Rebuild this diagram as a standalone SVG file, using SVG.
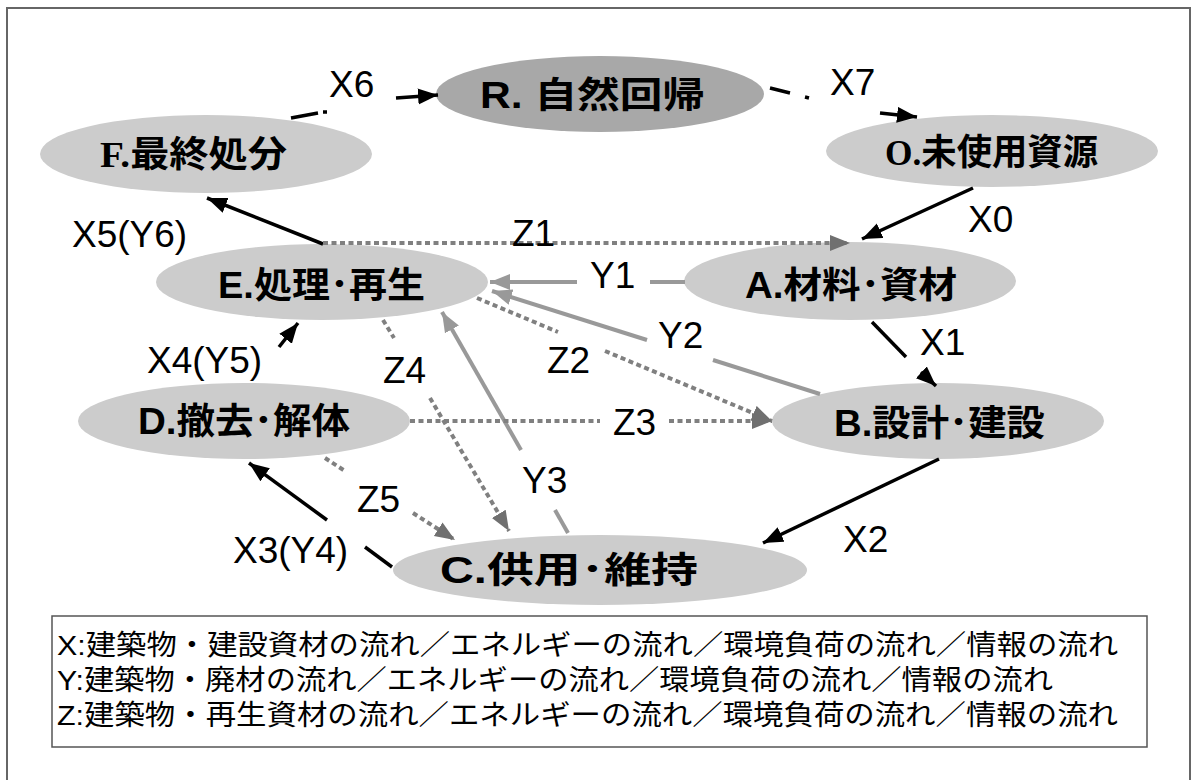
<svg xmlns="http://www.w3.org/2000/svg" width="1192" height="780" viewBox="0 0 1192 780">
<style>
.node{fill:#cccccc}
.nodeR{fill:#a8a8a8}
.nt{font-family:"Liberation Sans","Noto Sans CJK JP",sans-serif;font-weight:bold;font-size:36px;fill:#000}
.serif{font-family:"Liberation Serif","Noto Sans CJK JP",serif}
.lbl{font-family:"Liberation Sans",Arial,sans-serif;font-size:37px;fill:#000}
.blk{stroke:#000;stroke-width:3.5;fill:none}
.gry{stroke:#999;stroke-width:4;fill:none}
.dot{stroke:#808080;stroke-width:4;fill:none;stroke-dasharray:5 3.5}
.leg{font-family:"Liberation Sans","Noto Sans CJK JP",sans-serif;font-size:28px;fill:#000}
</style>
<defs>
<marker id="ab" markerUnits="userSpaceOnUse" markerWidth="22" markerHeight="18" refX="20" refY="8" orient="auto"><path d="M0,0 L20,8 L0,16 z" fill="#000"/></marker>
<marker id="ag" markerUnits="userSpaceOnUse" markerWidth="22" markerHeight="18" refX="20" refY="8" orient="auto"><path d="M0,0 L20,8 L0,16 z" fill="#999"/></marker>
<marker id="az" markerUnits="userSpaceOnUse" markerWidth="22" markerHeight="18" refX="20" refY="8" orient="auto"><path d="M0,0 L20,8 L0,16 z" fill="#707070"/></marker>
</defs>
<rect x="0" y="0" width="1192" height="780" fill="#fff"/>
<rect x="7" y="8" width="1183" height="800" fill="none" stroke="#666" stroke-width="2"/>

<g id="node-R"><ellipse class="nodeR" cx="600" cy="94" rx="164" ry="38"/><text class="nt" x="480" y="108" font-size="40" textLength="225" lengthAdjust="spacingAndGlyphs">R. 自然回帰</text></g>
<g id="node-F"><ellipse class="node" cx="206" cy="154" rx="166" ry="39"/><text class="nt" x="100" y="167" font-size="38" textLength="187" lengthAdjust="spacingAndGlyphs"><tspan class="serif">F.</tspan>最終処分</text></g>
<g id="node-O"><ellipse class="node" cx="992" cy="151" rx="166" ry="36"/><text class="nt" x="885" y="165" font-size="35" textLength="213" lengthAdjust="spacingAndGlyphs"><tspan class="serif">O.</tspan>未使用資源</text></g>
<g id="node-E"><ellipse class="node" cx="322" cy="282" rx="166" ry="38"/><text class="nt" x="218" y="298" textLength="207" lengthAdjust="spacingAndGlyphs">E.処理･再生</text></g>
<g id="node-A"><ellipse class="node" cx="850" cy="281" rx="166" ry="39"/><text class="nt" x="745" y="298" textLength="212" lengthAdjust="spacingAndGlyphs">A.材料･資材</text></g>
<g id="node-D"><ellipse class="node" cx="244" cy="421" rx="166" ry="38"/><text class="nt" x="138" y="434" textLength="212" lengthAdjust="spacingAndGlyphs">D.撤去･解体</text></g>
<g id="node-B"><ellipse class="node" cx="938" cy="421" rx="166" ry="38"/><text class="nt" x="834" y="436" textLength="211" lengthAdjust="spacingAndGlyphs">B.設計･建設</text></g>
<g id="node-C"><ellipse class="node" cx="600" cy="570" rx="207" ry="35"/><text class="nt" x="440" y="583" font-size="40" textLength="258" lengthAdjust="spacingAndGlyphs">C.供用･維持</text></g>

<g id="connectors">
<path class="blk" d="M291,118 L318,113 M323,112 L327,112"/>
<path class="blk" d="M396,98 L438,95" marker-end="url(#ab)"/>
<path class="blk" d="M770,88 L790,93 M805,97 L809,98"/>
<path class="blk" d="M880,113 L917,117" marker-end="url(#ab)"/>
<path class="blk" d="M973,188 L862,239" marker-end="url(#ab)"/>
<path class="blk" d="M323,244 L207,198" marker-end="url(#ab)"/>
<path class="blk" d="M872,322 L906,357"/>
<path class="blk" d="M921,372 L936,386" marker-end="url(#ab)"/>
<path class="blk" d="M939,459 L763,543" marker-end="url(#ab)"/>
<path class="blk" d="M392,567 L365,547"/>
<path class="blk" d="M327,520 L249,463" marker-end="url(#ab)"/>
<path class="blk" d="M279,347 L298,323" marker-end="url(#ab)"/>
<path class="gry" d="M685,282 L650,282"/>
<path class="gry" d="M577,282 L490,282" marker-end="url(#ag)"/>
<path class="gry" d="M820,394 L713,360"/>
<path class="gry" d="M647,340 L492,291" marker-end="url(#ag)"/>
<path class="gry" d="M568,533 L555,510"/>
<path class="gry" d="M521,450 L442,312" marker-end="url(#ag)"/>
<path class="dot" d="M323,243 L850,243" marker-end="url(#az)"/>
<path class="dot" d="M477,298 L558,332"/>
<path class="dot" d="M605,351 L772,421" marker-end="url(#az)"/>
<path class="dot" d="M410,421 L600,421"/>
<path class="dot" d="M669,421 L772,421" marker-end="url(#az)"/>
<path class="dot" d="M383,320 L394,338"/>
<path class="dot" d="M430,398 L509,531" marker-end="url(#az)"/>
<path class="dot" d="M325,458 L345,471"/>
<path class="dot" d="M413,513 L455,540" marker-end="url(#az)"/>
</g>

<g id="connector-labels">
<text class="lbl" x="329" y="97">X6</text>
<text class="lbl" x="830" y="95">X7</text>
<text class="lbl" x="968" y="232">X0</text>
<text class="lbl" x="72" y="247">X5(Y6)</text>
<text class="lbl" x="512" y="246">Z1</text>
<text class="lbl" x="590" y="288">Y1</text>
<text class="lbl" x="920" y="355">X1</text>
<text class="lbl" x="658" y="348">Y2</text>
<text class="lbl" x="547" y="373">Z2</text>
<text class="lbl" x="147" y="373">X4(Y5)</text>
<text class="lbl" x="383" y="383">Z4</text>
<text class="lbl" x="613" y="435">Z3</text>
<text class="lbl" x="522" y="493">Y3</text>
<text class="lbl" x="357" y="512">Z5</text>
<text class="lbl" x="843" y="552">X2</text>
<text class="lbl" x="233" y="563">X3(Y4)</text>
</g>

<g id="legend">
<rect x="52" y="616" width="1095" height="131" fill="#fff" stroke="#555" stroke-width="1.5"/>
<text class="leg" x="57" y="655" textLength="1061" lengthAdjust="spacingAndGlyphs">X:建築物・建設資材の流れ／エネルギーの流れ／環境負荷の流れ／情報の流れ</text>
<text class="leg" x="57" y="690" textLength="996" lengthAdjust="spacingAndGlyphs">Y:建築物・廃材の流れ／エネルギーの流れ／環境負荷の流れ／情報の流れ</text>
<text class="leg" x="57" y="725" textLength="1061" lengthAdjust="spacingAndGlyphs">Z:建築物・再生資材の流れ／エネルギーの流れ／環境負荷の流れ／情報の流れ</text>
</g>
</svg>
